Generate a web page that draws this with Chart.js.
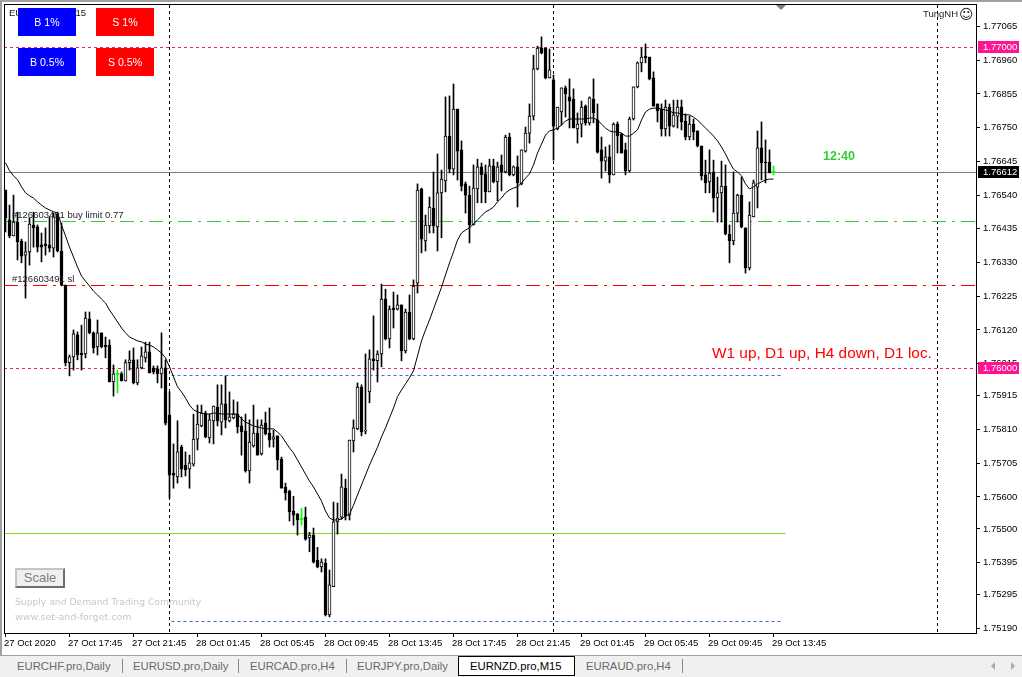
<!DOCTYPE html>
<html>
<head>
<meta charset="utf-8">
<title>EURNZD.pro,M15</title>
<script src="https://cdn.jsdelivr.net/npm/chart.js@4/dist/chart.umd.min.js"></script>
<style>
  html, body { margin: 0; padding: 0; background: #fff; }
  #wrap { position: relative; width: 1022px; height: 677px; overflow: hidden; font-family: "Liberation Sans", sans-serif; }
  #priceChart { position: absolute; left: 0; top: 0; }
  .t { position: absolute; white-space: nowrap; line-height: 12px; font-size: 9.5px; color: #111; }
  .btn { position: absolute; width: 58px; height: 28px; line-height: 28px; text-align: center; color: #fff; font-size: 10.6px; }
  .tab { position: absolute; top: 659px; line-height: 15px; font-size: 11.3px; color: #6a6a6a; white-space: nowrap; }
  .sep { position: absolute; top: 659px; width: 1px; height: 14px; background: #8a8a8a; }
</style>
</head>
<body>
<div id="wrap">
  <canvas id="priceChart" width="1022" height="655"></canvas>

  <div style="position:absolute;left:0;top:0;width:1022px;height:2px;background:#a0a0a0"></div>
  <div style="position:absolute;left:0;top:0;width:2px;height:655px;background:#a0a0a0"></div>

  <div class="t" style="left:9px;top:7px">EURNZD.pro,M15</div>
  <div class="btn" style="left:18px;top:8px;background:#0000ff">B 1%</div>
  <div class="btn" style="left:96px;top:8px;background:#ff0000">S 1%</div>
  <div class="btn" style="left:18px;top:48px;background:#0000ff">B 0.5%</div>
  <div class="btn" style="left:96px;top:48px;background:#ff0000">S 0.5%</div>

  <div class="t" style="left:923px;top:8px;color:#223">TungNH</div>
  <div class="t" style="left:959px;top:8px;font:14px 'DejaVu Sans';line-height:12px;color:#222">&#9786;</div>
  <div style="position:absolute;left:776px;top:5px;width:0;height:0;border-left:5px solid transparent;border-right:5px solid transparent;border-top:5px solid #708090"></div>

  <div class="t" style="left:12px;top:209px;color:#223">#126603491 buy limit 0.77</div>
  <div class="t" style="left:12px;top:273px;color:#223">#126603491 sl</div>
  <div class="t" style="left:823px;top:150px;font-size:12.5px;font-weight:bold;color:#32cd32">12:40</div>
  <div class="t" style="left:712px;top:347px;font-size:15.4px;color:#ff0000">W1 up, D1 up, H4 down, D1 loc.</div>

  <div style="position:absolute;left:15px;top:568px;width:46px;height:16px;background:#f0f0f0;border:2px solid;border-color:#c4c4c4 #6e6e6e #6e6e6e #c4c4c4;text-align:center;line-height:16px;font-size:13px;color:#808080">Scale</div>
  <div class="t" style="left:15px;top:596px;font-family:'DejaVu Sans';font-size:9.2px;color:#c8c8c8">Supply and Demand Trading Community</div>
  <div class="t" style="left:15px;top:611px;font-family:'DejaVu Sans';color:#c8c8c8">www.set-and-forget.com</div>

  <div style="position:absolute;left:0;top:655px;width:1022px;height:22px;background:#f0f0f0;border-top:1px solid #a0a0a0;box-sizing:border-box"></div>
  <div style="position:absolute;left:458px;top:656px;width:115px;height:18px;background:#fff;border:1px solid #000;border-bottom-width:1px"></div>
  <div class="tab" style="left:17px">EURCHF.pro,Daily</div><div class="sep" style="left:122px"></div>
  <div class="tab" style="left:133px">EURUSD.pro,Daily</div><div class="sep" style="left:238px"></div>
  <div class="tab" style="left:250px">EURCAD.pro,H4</div><div class="sep" style="left:346px"></div>
  <div class="tab" style="left:357px">EURJPY.pro,Daily</div>
  <div class="tab" style="left:470px;color:#000">EURNZD.pro,M15</div>
  <div class="tab" style="left:586px">EURAUD.pro,H4</div><div class="sep" style="left:682px"></div>
  <div style="position:absolute;left:991px;top:662px;width:0;height:0;border-top:4px solid transparent;border-bottom:4px solid transparent;border-right:4px solid #aaa"></div>
  <div style="position:absolute;left:1011px;top:662px;width:0;height:0;border-top:4px solid transparent;border-bottom:4px solid transparent;border-left:4px solid #aaa"></div>
</div>

<script>
// ===== CANDLES (EURNZD M15, bar 0 = 27 Oct 2020 13:45) =====
const opens = [
  1.76556,1.76463,1.76413,1.76456,1.76397,1.76353,1.76363,1.76447,1.76441,1.76385,
  1.76388,1.76385,1.76375,1.76481,1.76366,1.76260,1.76018,1.76036,1.76105,1.76048,
  1.76045,1.76154,1.76111,1.76067,1.76111,1.76073,1.76073,1.75958,1.75983,1.75983,
  1.75961,1.76018,1.76027,1.75955,1.76002,1.76033,1.76052,1.76002,1.75999,1.75983,
  1.76002,1.75855,1.75674,1.75662,1.75755,1.75699,1.75687,1.75702,1.75780,1.75821,
  1.75861,1.75784,1.75837,1.75880,1.75833,1.75890,1.75837,1.75846,1.75858,1.75821,
  1.75805,1.75681,1.75759,1.75799,1.75734,1.75830,1.75799,1.75780,1.75790,1.75718,
  1.75630,1.75618,1.75556,1.75546,1.75531,1.75537,1.75472,1.75481,1.75403,1.75382,
  1.75394,1.75232,1.75320,1.75522,1.75537,1.75627,1.75543,1.75774,1.75812,1.75942,
  1.75805,1.75927,1.76030,1.76024,1.76045,1.76216,1.76092,1.76188,1.76185,1.76198,
  1.76055,1.76176,1.76092,1.76266,1.76559,1.76397,1.76444,1.76500,1.76441,1.76547,
  1.76584,1.76724,1.76621,1.76808,1.76681,1.76575,1.76540,1.76447,1.76559,1.76628,
  1.76606,1.76550,1.76631,1.76581,1.76634,1.76612,1.76721,1.76603,1.76628,1.76575,
  1.76677,1.76733,1.76786,1.76933,1.76998,1.76998,1.76905,1.76899,1.76746,1.76799,
  1.76874,1.76846,1.76839,1.76746,1.76761,1.76817,1.76765,1.76839,1.76774,1.76681,
  1.76646,1.76659,1.76603,1.76761,1.76730,1.76681,1.76615,1.76777,1.76877,1.76952,
  1.76973,1.76970,1.76905,1.76824,1.76808,1.76746,1.76814,1.76755,1.76786,1.76814,
  1.76771,1.76721,1.76761,1.76740,1.76693,1.76603,1.76581,1.76612,1.76531,1.76547,
  1.76568,1.76419,1.76397,1.76484,1.76540,1.76438,1.76313,1.76472,1.76565,1.76687,
  1.76643,1.76643,1.76612
];
const highs = [
  1.76556,1.76509,1.76540,1.76487,1.76403,1.76394,1.76469,1.76487,1.76447,1.76422,
  1.76438,1.76472,1.76484,1.76487,1.76453,1.76260,1.76042,1.76120,1.76114,1.76135,
  1.76176,1.76176,1.76114,1.76151,1.76111,1.76098,1.76089,1.76011,1.75995,1.75989,
  1.76027,1.76055,1.76064,1.76027,1.76067,1.76082,1.76082,1.76008,1.76008,1.76111,
  1.76027,1.75927,1.75765,1.75837,1.75761,1.75740,1.75730,1.75858,1.75886,1.75886,
  1.75867,1.75858,1.75883,1.75949,1.75949,1.75977,1.75927,1.75902,1.75896,1.75849,
  1.75858,1.75840,1.75886,1.75840,1.75840,1.75864,1.75877,1.75808,1.75790,1.75724,
  1.75643,1.75621,1.75602,1.75549,1.75565,1.75568,1.75490,1.75503,1.75443,1.75407,
  1.75407,1.75372,1.75584,1.75581,1.75671,1.75655,1.75777,1.75840,1.75955,1.75949,
  1.76045,1.76058,1.76164,1.76055,1.76263,1.76247,1.76195,1.76238,1.76229,1.76198,
  1.76185,1.76229,1.76276,1.76575,1.76562,1.76478,1.76534,1.76612,1.76668,1.76618,
  1.76846,1.76849,1.76886,1.76808,1.76709,1.76581,1.76568,1.76634,1.76652,1.76640,
  1.76634,1.76652,1.76652,1.76643,1.76665,1.76727,1.76733,1.76631,1.76662,1.76681,
  1.76752,1.76824,1.76976,1.77004,1.77033,1.76998,1.76995,1.76914,1.76814,1.76874,
  1.76880,1.76902,1.76871,1.76796,1.76833,1.76821,1.76846,1.76902,1.76824,1.76721,
  1.76690,1.76696,1.76765,1.76768,1.76733,1.76702,1.76783,1.76877,1.76955,1.76998,
  1.77011,1.76970,1.76924,1.76824,1.76824,1.76836,1.76824,1.76836,1.76836,1.76836,
  1.76793,1.76786,1.76777,1.76740,1.76693,1.76649,1.76681,1.76649,1.76596,1.76646,
  1.76634,1.76447,1.76612,1.76543,1.76596,1.76438,1.76519,1.76587,1.76740,1.76768,
  1.76712,1.76681,1.76631
];
const lows = [
  1.76425,1.76407,1.76413,1.76338,1.76329,1.76219,1.76322,1.76378,1.76363,1.76332,
  1.76353,1.76363,1.76347,1.76363,1.76257,1.76008,1.75977,1.75995,1.76027,1.75995,
  1.76033,1.76108,1.76048,1.76042,1.76064,1.76033,1.75958,1.75914,1.75924,1.75961,
  1.75961,1.75995,1.75952,1.75949,1.75999,1.76020,1.75986,1.75983,1.75955,1.75939,
  1.75824,1.75596,1.75627,1.75643,1.75662,1.75665,1.75627,1.75696,1.75746,1.75818,
  1.75784,1.75768,1.75765,1.75821,1.75793,1.75815,1.75833,1.75843,1.75799,1.75730,
  1.75677,1.75643,1.75755,1.75730,1.75730,1.75793,1.75755,1.75755,1.75684,1.75627,
  1.75590,1.75525,1.75512,1.75481,1.75512,1.75465,1.75429,1.75394,1.75379,1.75366,
  1.75229,1.75226,1.75320,1.75484,1.75531,1.75528,1.75528,1.75740,1.75809,1.75790,
  1.75796,1.75893,1.75995,1.75958,1.76005,1.76089,1.76064,1.76126,1.76182,1.76024,
  1.76048,1.76089,1.76089,1.76235,1.76360,1.76366,1.76422,1.76422,1.76366,1.76407,
  1.76550,1.76609,1.76603,1.76587,1.76553,1.76484,1.76391,1.76447,1.76516,1.76516,
  1.76516,1.76550,1.76578,1.76522,1.76553,1.76609,1.76600,1.76600,1.76503,1.76572,
  1.76674,1.76702,1.76774,1.76930,1.76980,1.76902,1.76905,1.76649,1.76743,1.76758,
  1.76783,1.76749,1.76749,1.76702,1.76721,1.76758,1.76758,1.76765,1.76671,1.76593,
  1.76615,1.76578,1.76603,1.76671,1.76671,1.76603,1.76612,1.76774,1.76874,1.76924,
  1.76952,1.76899,1.76817,1.76768,1.76724,1.76724,1.76724,1.76752,1.76749,1.76743,
  1.76712,1.76712,1.76712,1.76690,1.76587,1.76547,1.76547,1.76487,1.76456,1.76456,
  1.76416,1.76329,1.76385,1.76456,1.76438,1.76297,1.76307,1.76472,1.76500,1.76587,
  1.76578,1.76609,1.76603
];
const closes = [
  1.76469,1.76413,1.76456,1.76394,1.76350,1.76363,1.76450,1.76438,1.76378,1.76378,
  1.76382,1.76375,1.76472,1.76366,1.76260,1.76018,1.76036,1.76108,1.76042,1.76042,
  1.76157,1.76111,1.76064,1.76111,1.76067,1.76067,1.75958,1.75983,1.75983,1.75961,
  1.76018,1.76027,1.75955,1.76002,1.76039,1.76052,1.75986,1.75989,1.75983,1.76002,
  1.75830,1.75668,1.75668,1.75740,1.75687,1.75684,1.75706,1.75780,1.75827,1.75861,
  1.75787,1.75840,1.75883,1.75837,1.75890,1.75840,1.75849,1.75858,1.75818,1.75802,
  1.75681,1.75771,1.75799,1.75730,1.75824,1.75796,1.75777,1.75787,1.75715,1.75627,
  1.75612,1.75553,1.75543,1.75528,1.75531,1.75468,1.75481,1.75397,1.75382,1.75397,
  1.75232,1.75326,1.75522,1.75534,1.75631,1.75540,1.75777,1.75815,1.75942,1.75802,
  1.75808,1.76030,1.76024,1.76045,1.76216,1.76092,1.76185,1.76182,1.76198,1.76055,
  1.76176,1.76092,1.76257,1.76556,1.76403,1.76447,1.76503,1.76444,1.76547,1.76590,
  1.76724,1.76621,1.76808,1.76677,1.76568,1.76540,1.76447,1.76562,1.76628,1.76603,
  1.76550,1.76631,1.76581,1.76628,1.76612,1.76721,1.76603,1.76628,1.76578,1.76681,
  1.76733,1.76786,1.76933,1.76998,1.76983,1.76905,1.76930,1.76755,1.76814,1.76874,
  1.76855,1.76833,1.76749,1.76761,1.76814,1.76765,1.76843,1.76796,1.76674,1.76646,
  1.76659,1.76603,1.76761,1.76724,1.76671,1.76615,1.76777,1.76877,1.76952,1.76970,
  1.76967,1.76902,1.76817,1.76802,1.76746,1.76814,1.76755,1.76790,1.76814,1.76768,
  1.76721,1.76761,1.76737,1.76693,1.76600,1.76578,1.76609,1.76531,1.76547,1.76568,
  1.76419,1.76397,1.76484,1.76540,1.76441,1.76313,1.76478,1.76578,1.76687,1.76640,
  1.76640,1.76609,1.76612
];
const movingAverage = [
  1.76641,1.76616,1.76600,1.76588,1.76566,1.76547,1.76538,1.76531,1.76519,1.76509,
  1.76500,1.76494,1.76488,1.76485,1.76447,1.76413,1.76378,1.76347,1.76316,1.76288,
  1.76272,1.76257,1.76241,1.76229,1.76216,1.76204,1.76182,1.76164,1.76145,1.76126,
  1.76111,1.76098,1.76092,1.76086,1.76083,1.76076,1.76073,1.76067,1.76058,1.76048,
  1.76033,1.76005,1.75974,1.75943,1.75927,1.75908,1.75886,1.75871,1.75865,1.75861,
  1.75858,1.75858,1.75861,1.75861,1.75858,1.75858,1.75858,1.75858,1.75858,1.75843,
  1.75833,1.75827,1.75821,1.75818,1.75815,1.75812,1.75812,1.75812,1.75802,1.75790,
  1.75771,1.75752,1.75737,1.75715,1.75693,1.75671,1.75649,1.75631,1.75609,1.75587,
  1.75556,1.75534,1.75528,1.75528,1.75531,1.75540,1.75546,1.75574,1.75606,1.75637,
  1.75668,1.75699,1.75727,1.75755,1.75787,1.75815,1.75846,1.75877,1.75912,1.75933,
  1.75952,1.75971,1.75993,1.76039,1.76086,1.76120,1.76151,1.76185,1.76219,1.76253,
  1.76291,1.76329,1.76363,1.76400,1.76422,1.76431,1.76438,1.76450,1.76463,1.76475,
  1.76488,1.76494,1.76503,1.76519,1.76531,1.76547,1.76556,1.76562,1.76566,1.76578,
  1.76593,1.76606,1.76634,1.76671,1.76699,1.76727,1.76740,1.76743,1.76749,1.76758,
  1.76771,1.76777,1.76777,1.76777,1.76777,1.76777,1.76780,1.76780,1.76774,1.76761,
  1.76749,1.76740,1.76737,1.76737,1.76733,1.76724,1.76724,1.76733,1.76743,1.76774,
  1.76799,1.76808,1.76811,1.76811,1.76808,1.76805,1.76802,1.76796,1.76796,1.76793,
  1.76790,1.76790,1.76783,1.76774,1.76761,1.76749,1.76737,1.76724,1.76709,1.76690,
  1.76668,1.76643,1.76621,1.76612,1.76600,1.76575,1.76559,1.76566,1.76575,1.76581,
  1.76587,1.76590,1.76590
];

// ===== AXIS LABELS =====
const priceTicks = [1.77065,1.76960,1.76855,1.76750,1.76645,1.76540,1.76435,1.76330,1.76225,1.76120,1.76015,1.75915,1.75810,1.75705,1.75600,1.75500,1.75395,1.75295,1.75190];
const timeTickBars = [0,16,32,48,64,80,96,112,128,144,160,176,192];
const timeTickLabels = ['27 Oct 2020','27 Oct 17:45','27 Oct 21:45','28 Oct 01:45','28 Oct 05:45','28 Oct 09:45','28 Oct 13:45','28 Oct 17:45','28 Oct 21:45','29 Oct 01:45','29 Oct 05:45','29 Oct 09:45','29 Oct 13:45'];

// ===== LEVELS DRAWN ON THE CHART =====
const pinkLevels = [1.77000, 1.76000];
const bidLevel = 1.76612;
const buyLimitLevel = 1.76458;
const stopLossLevel = 1.76260;
const blueLevels = [1.75980, 1.75214];
const limeLevel = 1.75487;
const dayBreakBars = [41, 137, 233];
const zoneStartBar = 41;
const zoneEndBar = 194.5;

const DOJI_GREEN = '#00ff00';
const isDoji = i => opens[i] === closes[i];
const barColor = i => isDoji(i) ? DOJI_GREEN : '#000000';
const chartFont = { family: '"Liberation Sans", sans-serif', size: 9.5 };

// background levels, under the candles
const levelsPlugin = {
  id: 'levels',
  beforeDatasetsDraw(chart) {
    const { ctx, chartArea: a, scales: { x, y } } = chart;
    const hline = (price, color, dash, x1, x2) => {
      const py = Math.round(y.getPixelForValue(price)) + 0.5;
      ctx.strokeStyle = color;
      ctx.setLineDash(dash);
      ctx.beginPath();
      ctx.moveTo(x1 === undefined ? a.left : x.getPixelForValue(x1), py);
      ctx.lineTo(x2 === undefined ? a.right : x.getPixelForValue(x2), py);
      ctx.stroke();
    };
    ctx.save();
    ctx.lineWidth = 1;
    dayBreakBars.forEach(b => {
      const px = x.getPixelForValue(b);
      ctx.strokeStyle = '#000000';
      ctx.setLineDash([3, 3]);
      ctx.beginPath();
      ctx.moveTo(px, a.top);
      ctx.lineTo(px, a.bottom);
      ctx.stroke();
    });
    hline(bidLevel, '#708090', []);
    pinkLevels.forEach(p => hline(p, '#e6207f', [3, 3]));
    hline(buyLimitLevel, '#32cd32', [14, 6, 3, 6]);
    hline(stopLossLevel, '#ff0000', [14, 6, 3, 6]);
    blueLevels.forEach(p => hline(p, '#4169e1', [3, 3], zoneStartBar + 0.5, zoneEndBar));
    hline(limeLevel, '#7cdc20', [], undefined, zoneEndBar + 0.5);
    ctx.restore();
  },
  afterDraw(chart) {
    const { ctx, chartArea: a, scales: { y } } = chart;
    ctx.save();
    ctx.strokeStyle = '#000000';
    ctx.lineWidth = 1;
    ctx.strokeRect(a.left + 0.5, a.top - 0.5, a.right - a.left, a.bottom - a.top + 1);
    // price boxes on the right axis
    const box = (price, bg) => {
      const py = Math.round(y.getPixelForValue(price));
      ctx.fillStyle = bg;
      ctx.fillRect(978, py - 6, 41, 12);
      ctx.fillStyle = '#ffffff';
      ctx.font = '9.5px "Liberation Sans", sans-serif';
      ctx.textBaseline = 'middle';
      ctx.textAlign = 'left';
      ctx.fillText(price.toFixed(5), 983, py + 0.5);
    };
    pinkLevels.forEach(p => box(p, '#ff1493'));
    box(bidLevel, '#000000');
    ctx.restore();
  }
};

const barIndexes = opens.map((_, i) => i);
// a doji has no body height, so it gets one pixel's worth of price to stay visible
const DOJI_HALF = 0.000016;

new Chart(document.getElementById('priceChart'), {
  type: 'bar',
  data: {
    datasets: [
      {
        type: 'line',
        label: 'MA',
        data: movingAverage.map((v, i) => ({ x: i, y: v })),
        borderColor: '#000000',
        borderWidth: 1,
        pointRadius: 0,
        tension: 0,
        order: 0
      },
      {
        label: 'Body',
        data: barIndexes.map(i => ({ x: i, y: isDoji(i) ? [opens[i] - DOJI_HALF, opens[i] + DOJI_HALF] : [opens[i], closes[i]] })),
        backgroundColor: ctx => isDoji(ctx.dataIndex) ? DOJI_GREEN : (closes[ctx.dataIndex] > opens[ctx.dataIndex] ? '#ffffff' : '#000000'),
        borderColor: '#000000',
        borderWidth: ctx => isDoji(ctx.dataIndex) ? 0 : 1,
        borderSkipped: false,
        barThickness: 3,
        grouped: false,
        order: 1
      },
      {
        label: 'Wick',
        data: barIndexes.map(i => ({ x: i, y: [lows[i], highs[i]] })),
        backgroundColor: ctx => barColor(ctx.dataIndex),
        borderWidth: 0,
        barThickness: 1,
        grouped: false,
        order: 2
      }
    ]
  },
  options: {
    responsive: false,
    animation: false,
    events: [],
    layout: { padding: { left: 4, top: 5, right: 0, bottom: 0 } },
    plugins: { legend: { display: false }, tooltip: { enabled: false } },
    scales: {
      x: {
        type: 'linear',
        offset: false,
        min: -0.375,
        max: 242.625,
        afterFit: s => { s.height = 22; s.paddingLeft = 0; s.paddingRight = 0; },
        afterBuildTicks: s => { s.ticks = timeTickBars.map(v => ({ value: v })); },
        grid: { offset: false, drawOnChartArea: false, drawTicks: true, tickLength: 4, color: '#000000' },
        border: { display: false },
        ticks: {
          autoSkip: false, maxRotation: 0, align: 'start', padding: 1, labelOffset: -1.5,
          color: '#000000', font: chartFont,
          callback: (v, idx) => timeTickLabels[idx]
        }
      },
      y: {
        type: 'linear',
        position: 'right',
        min: 1.751760,
        max: 1.771322,
        afterFit: s => { s.width = 46; s.paddingTop = 0; s.paddingBottom = 0; },
        afterBuildTicks: s => { s.ticks = priceTicks.map(v => ({ value: v })); },
        grid: { drawOnChartArea: false, drawTicks: true, tickLength: 4, color: '#000000' },
        border: { display: false },
        ticks: {
          autoSkip: false, padding: 3, color: '#000000', font: chartFont,
          callback: v => v.toFixed(5)
        }
      }
    }
  },
  plugins: [levelsPlugin]
});
</script>
</body>
</html>
